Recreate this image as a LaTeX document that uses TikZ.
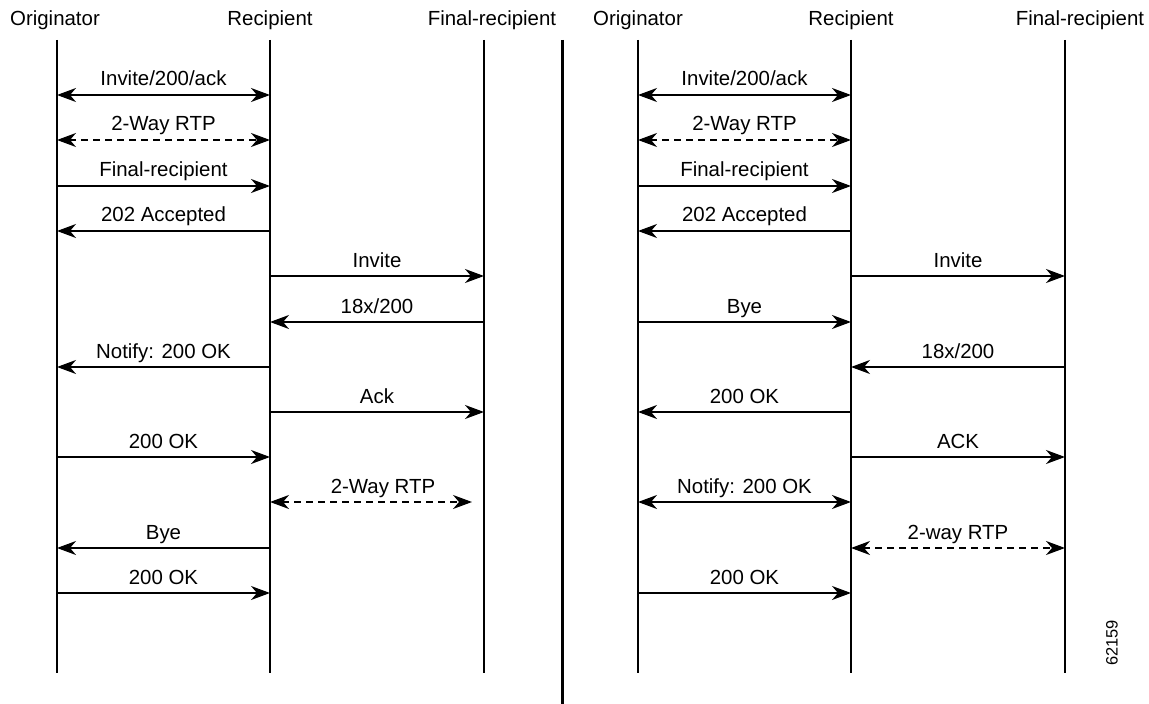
\documentclass[tikz,border=0pt]{standalone}
\usepackage{fontspec}
\setmainfont{Liberation Sans}
\usetikzlibrary{arrows.meta}
\begin{document}
\begin{tikzpicture}[x=1bp,y=-1bp,
  life/.style={line width=1.4bp},
  sep/.style={line width=3bp},
  msg/.style={line width=1.4bp,-{Stealth[length=19bp,width=14bp,inset=6bp]}},
  bmsg/.style={line width=1.4bp,{Stealth[length=19bp,width=14bp,inset=6bp]}-{Stealth[length=19bp,width=14bp,inset=6bp]}},
  dmsg/.style={bmsg,dash pattern=on 7bp off 5bp},
  lbl/.style={font=\fontsize{20.5}{22}\selectfont,inner sep=0pt,anchor=base,yshift=9bp},
  hdr/.style={font=\fontsize{20.5}{22}\selectfont,inner sep=0pt,anchor=base}]
\useasboundingbox (0,0) rectangle (1149,704);
% lifeline coordinates
\foreach \n/\x in {LO/57,LR/270,LF/484,RO/638,RR/851,RF/1065}{
  \coordinate (\n-top) at (\x,40);
  \coordinate (\n-bot) at (\x,673);
  \foreach \i/\y in {1/95,2/140,3/186,4/231,5/276,6/322,7/367,8/412,9/457,10/502,11/548,12/593}{
    \coordinate (\n-\i) at (\x,\y);
  }
}
\coordinate (sep-top) at (562,40);
\coordinate (sep-bot) at (562,704);
% headers
\node[hdr] (hLO) at (55,26) {Originator};
\node[hdr] (hLR) at (270,26) {Recipient};
\node[hdr] (hLF) at (492,26) {Final-recipient};
\node[hdr] (hRO) at (638,26) {Originator};
\node[hdr] (hRR) at (851,26) {Recipient};
\node[hdr] (hRF) at (1080,26) {Final-recipient};
% lifelines
\foreach \n in {LO,LR,LF,RO,RR,RF}{\draw[life] (\n-top) -- (\n-bot);}
\draw[sep] (sep-top) -- (sep-bot);
% left panel
\draw[bmsg] (LO-1) -- node[lbl]{Invite/200/ack} (LR-1);
\draw[dmsg] (LO-2) -- node[lbl]{2-Way RTP} (LR-2);
\draw[msg] (LO-3) -- node[lbl]{Final-recipient} (LR-3);
\draw[msg] (LR-4) -- node[lbl]{202 Accepted} (LO-4);
\draw[msg] (LR-5) -- node[lbl]{Invite} (LF-5);
\draw[msg] (LF-6) -- node[lbl]{18x/200} (LR-6);
\draw[msg] (LR-7) -- node[lbl]{Notify: 200 OK} (LO-7);
\draw[msg] (LR-8) -- node[lbl]{Ack} (LF-8);
\draw[msg] (LO-9) -- node[lbl]{200 OK} (LR-9);
\draw[dmsg,shorten >=12bp] (LR-10) -- node[lbl,xshift=6bp]{2-Way RTP} (LF-10);
\draw[msg] (LR-11) -- node[lbl]{Bye} (LO-11);
\draw[msg] (LO-12) -- node[lbl]{200 OK} (LR-12);
% right panel
\draw[bmsg] (RO-1) -- node[lbl]{Invite/200/ack} (RR-1);
\draw[dmsg] (RO-2) -- node[lbl]{2-Way RTP} (RR-2);
\draw[msg] (RO-3) -- node[lbl]{Final-recipient} (RR-3);
\draw[msg] (RR-4) -- node[lbl]{202 Accepted} (RO-4);
\draw[msg] (RR-5) -- node[lbl]{Invite} (RF-5);
\draw[msg] (RO-6) -- node[lbl]{Bye} (RR-6);
\draw[msg] (RF-7) -- node[lbl]{18x/200} (RR-7);
\draw[msg] (RR-8) -- node[lbl]{200 OK} (RO-8);
\draw[msg] (RR-9) -- node[lbl]{ACK} (RF-9);
\draw[bmsg] (RO-10) -- node[lbl]{Notify: 200 OK} (RR-10);
\draw[dmsg] (RR-11) -- node[lbl]{2-way RTP} (RF-11);
\draw[msg] (RO-12) -- node[lbl]{200 OK} (RR-12);
% figure number
\node[font=\fontsize{16.5}{18}\selectfont,inner sep=0pt,rotate=90] (fig) at (1112,643) {62159};
\end{tikzpicture}
\end{document}
